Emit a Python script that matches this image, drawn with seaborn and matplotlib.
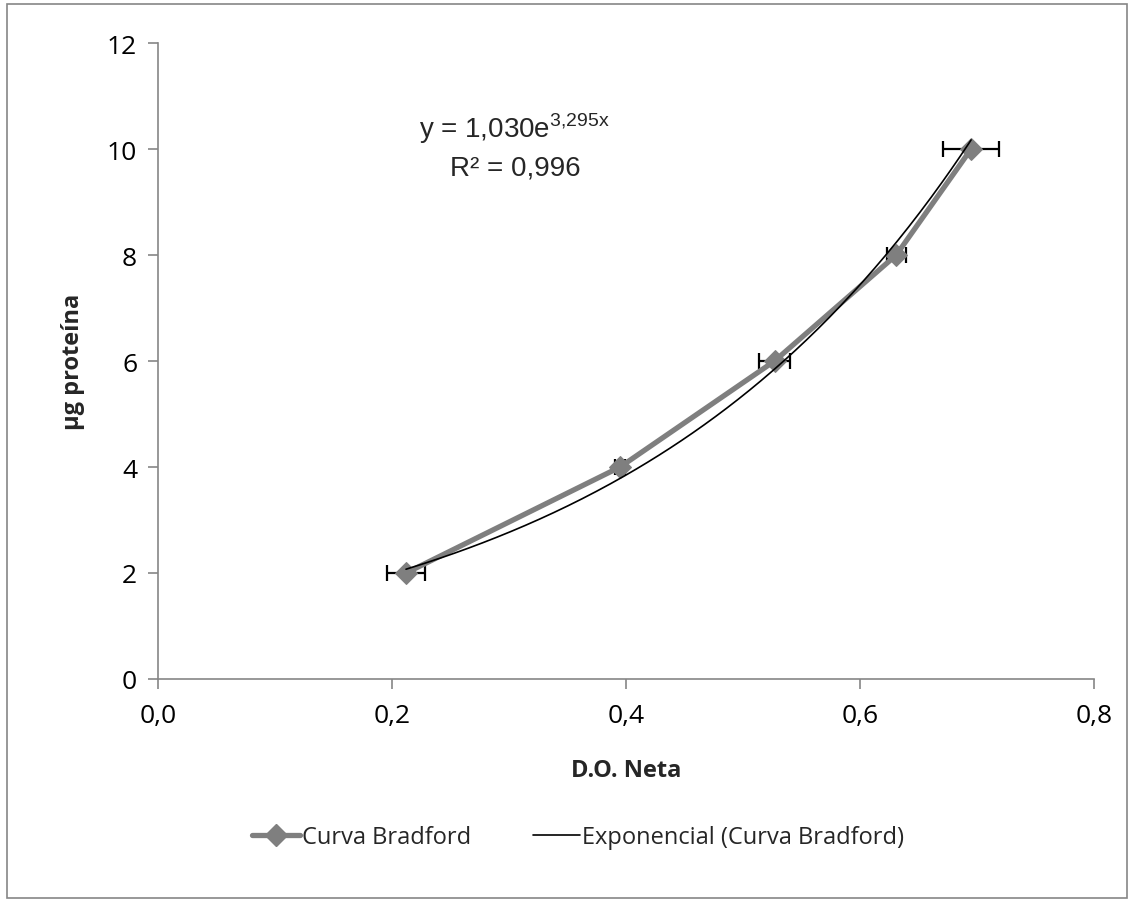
import numpy as np
import pandas as pd
import matplotlib
matplotlib.use("Agg")
import matplotlib.pyplot as plt
import seaborn as sns
from matplotlib.patches import Rectangle
from matplotlib.lines import Line2D

# datos de la curva
do_neta = [0.212, 0.395, 0.527, 0.631, 0.695]
ug_proteina = [2, 4, 6, 8, 10]
err_x = [0.016, 0.004, 0.013, 0.008, 0.024]

# linea de tendencia exponencial y = a*e^(b*x)
coef_a = 1.030
coef_b = 3.295
r2 = 0.996

sns.set_theme(style="white")
plt.rcParams['font.family'] = ['Open Sans', 'DejaVu Sans']
plt.rcParams['mathtext.fontset'] = 'custom'
plt.rcParams['mathtext.rm'] = 'Liberation Sans'

fig = plt.figure(figsize=(11.34, 9.04), dpi=100)
ax = fig.add_axes([0.1393, 0.2478, 0.8254, 0.7035])

df = pd.DataFrame({"x": do_neta, "y": ug_proteina})

ax.errorbar(do_neta, ug_proteina, xerr=err_x, fmt="none", ecolor="black",
            elinewidth=1.6, capsize=6, capthick=1.6, zorder=2)

sns.lineplot(data=df, x="x", y="y", ax=ax, color="#7f7f7f", linewidth=3.8,
             marker="D", markersize=11, markeredgecolor="#7f7f7f", zorder=3)

xt = np.linspace(min(do_neta), max(do_neta), 200)
ax.plot(xt, coef_a * np.exp(coef_b * xt), color="black", linewidth=1.2, zorder=4)

ax.set_xlim(0, 0.8)
ax.set_ylim(0, 12)
ax.set_xticks([0, 0.2, 0.4, 0.6, 0.8])
ax.set_xticklabels(["0,0", "0,2", "0,4", "0,6", "0,8"])
ax.set_yticks(range(0, 13, 2))

for s in ["top", "right"]:
    ax.spines[s].set_visible(False)
for s in ["left", "bottom"]:
    ax.spines[s].set_color("#868686")
    ax.spines[s].set_linewidth(1.2)

ax.tick_params(axis="both", which="both", direction="out", length=7, width=1.2,
               color="#868686", labelsize=19, labelcolor="black", pad=8,
               left=True, bottom=True)
ax.tick_params(axis="x", pad=10)

ax.set_xlabel("D.O. Neta", fontsize=17, fontweight="bold", labelpad=22)
ax.set_ylabel("µg proteína", fontsize=17, fontweight="bold", labelpad=16)

ax.text(0.305, 10.4, r"y = 1,030e$^{\rm 3{,}295x}$", fontsize=20,
        family=["Liberation Sans", "DejaVu Sans"], ha="center", va="center")
ax.text(0.305, 9.65, "R² = 0,996", fontsize=20,
        family=["Liberation Sans", "DejaVu Sans"], ha="center", va="center")

handles = [
    Line2D([], [], color="#7f7f7f", linewidth=3.8, marker="D", markersize=11),
    Line2D([], [], color="black", linewidth=1.2),
]
fig.legend(handles, ["Curva Bradford", "Exponencial (Curva Bradford)"],
           loc="center", bbox_to_anchor=(0.51, 0.073), ncol=2, frameon=False,
           fontsize=17, handlelength=2.0, handletextpad=0.1, columnspacing=2.6)

fig.patches.append(Rectangle((0.006, 0.006), 0.988, 0.988, transform=fig.transFigure,
                             fill=False, edgecolor="#868686", linewidth=1.2))

fig.savefig("out.png", dpi=100)
